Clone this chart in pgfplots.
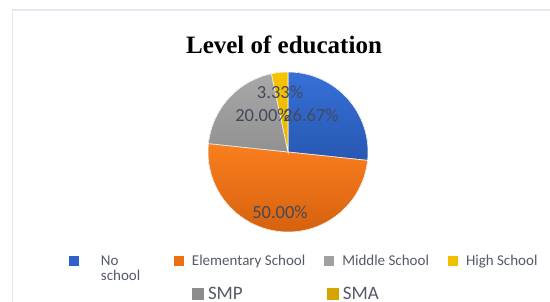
\documentclass[border=0pt]{standalone}
\usepackage{pgfplots}
\pgfplotsset{compat=1.18}
\usepackage{pgfplotstable}
\usepackage{fontspec}
\setmainfont{Liberation Serif}
\newfontfamily\carlito{Carlito}
\definecolor{cBlue}{RGB}{46,98,200}
\definecolor{cBlueT}{RGB}{54,112,216}
\definecolor{cBlueB}{RGB}{40,88,178}
\definecolor{cOrange}{RGB}{236,112,22}
\definecolor{cOrangeT}{RGB}{250,126,30}
\definecolor{cOrangeB}{RGB}{212,96,14}
\definecolor{cGray}{RGB}{160,160,160}
\definecolor{cGrayT}{RGB}{168,168,168}
\definecolor{cGrayB}{RGB}{145,145,145}
\definecolor{cYellow}{RGB}{242,190,0}
\definecolor{cYellowT}{RGB}{246,196,0}
\definecolor{cYellowB}{RGB}{232,180,0}
\definecolor{cSMP}{RGB}{140,140,140}
\definecolor{cSMA}{RGB}{214,164,0}
\definecolor{cLabel}{RGB}{66,74,90}
\definecolor{cLegend}{RGB}{84,90,102}
\definecolor{cFrame}{RGB}{228,232,240}

\pgfplotstableread[col sep=comma]{
label,value
No school,26.67
Elementary School,50.00
Middle School,20.00
High School,3.33
}\piedata
\pgfplotstablegetelem{0}{value}\of\piedata \let\vA\pgfplotsretval
\pgfplotstablegetelem{1}{value}\of\piedata \let\vB\pgfplotsretval
\pgfplotstablegetelem{2}{value}\of\piedata \let\vC\pgfplotsretval
\pgfplotstablegetelem{3}{value}\of\piedata \let\vD\pgfplotsretval
\pgfmathsetmacro\aA{90-3.6*\vA}
\pgfmathsetmacro\aB{\aA-3.6*\vB}
\pgfmathsetmacro\aC{\aB-3.6*\vC}
\pgfmathsetmacro\aD{\aC-3.6*\vD}

\begin{document}
\begin{tikzpicture}
\useasboundingbox (0pt,0pt) rectangle (550pt,302pt);
\fill[white] (0pt,0pt) rectangle (550pt,302pt);
\draw[cFrame, line width=1.6pt] (12.6pt,-1pt) -- (12.6pt,292pt) -- (552pt,292pt);
\node[font=\bfseries\fontsize{25}{30}\selectfont, anchor=base] at (284pt,248.5pt) {Level of education};

\begin{axis}[
  at={(0pt,0pt)}, anchor=south west,
  width=550pt, height=302pt, scale only axis,
  xmin=0, xmax=550, ymin=0, ymax=302,
  hide axis, clip=false,
  legend columns=4,
  legend cell align=left,
  legend image code/.code={\fill[#1] (0pt,-5pt) rectangle (10pt,5pt);},
  legend style={at={(0.12545,0.1358)}, anchor=west, draw=none, fill=none,
    inner sep=0pt, outer sep=0pt,
    font=\carlito\fontsize{15}{16}\selectfont,
    nodes={inner sep=0pt, text=cLegend},
    /tikz/every odd column/.append style={column sep=8pt},
    /tikz/every even column/.append style={column sep=19pt}},
]
\fill[top color=cBlueT, bottom color=cBlueB, draw=white, line width=0.6pt]
  (axis cs:288,150) -- ++(90:80pt) arc[start angle=90, end angle=\aA, radius=80pt] -- cycle;
\fill[top color=cOrangeT, bottom color=cOrangeB, draw=white, line width=0.6pt]
  (axis cs:288,150) -- ++(\aA:80pt) arc[start angle=\aA, end angle=\aB, radius=80pt] -- cycle;
\fill[top color=cGrayT, bottom color=cGrayB, draw=white, line width=0.6pt]
  (axis cs:288,150) -- ++(\aB:80pt) arc[start angle=\aB, end angle=\aC, radius=80pt] -- cycle;
\fill[top color=cYellowT, bottom color=cYellowB, draw=white, line width=0.6pt]
  (axis cs:288,150) -- ++(\aC:80pt) arc[start angle=\aC, end angle=\aD, radius=80pt] -- cycle;

\node[font=\carlito\fontsize{18.5}{22}\selectfont, text=cLabel] at (axis cs:280,209.5) {3.33\%};
\node[font=\carlito\fontsize{18.5}{22}\selectfont, text=cLabel] at (axis cs:263,187) {20.00\%};
\node[font=\carlito\fontsize{18.5}{22}\selectfont, text=cLabel] at (axis cs:311,187) {26.67\%};
\node[font=\carlito\fontsize{18.5}{22}\selectfont, text=cLabel] at (axis cs:280,89.5) {50.00\%};

\addlegendimage{fill=cBlue, draw=none}
\addlegendentry{\makebox[68pt][l]{\hspace*{14pt}\rlap{\smash{\raisebox{-15.5pt}{school}}}No}}
\addlegendimage{fill=cOrange, draw=none}
\addlegendentry{Elementary School}
\addlegendimage{fill=cGray, draw=none}
\addlegendentry{Middle School}
\addlegendimage{fill=cYellow, draw=none}
\addlegendentry{High School}
\end{axis}

\begin{axis}[
  at={(0pt,0pt)}, anchor=south west,
  width=550pt, height=302pt, scale only axis,
  xmin=0, xmax=550, ymin=0, ymax=302,
  hide axis, clip=false,
  legend columns=2,
  legend cell align=left,
  legend image code/.code={\fill[#1] (0pt,-6pt) rectangle (12pt,6pt);},
  legend style={at={(0.3491,0.0265)}, anchor=west, draw=none, fill=none,
    inner sep=0pt, outer sep=0pt,
    font=\carlito\fontsize{19}{20}\selectfont,
    nodes={inner sep=0pt, text=cLegend},
    /tikz/every odd column/.append style={column sep=4pt},
    /tikz/every even column/.append style={column sep=84pt}},
]
\addlegendimage{fill=cSMP, draw=none}
\addlegendentry{SMP}
\addlegendimage{fill=cSMA, draw=none}
\addlegendentry{SMA}
\end{axis}
\end{tikzpicture}
\end{document}
